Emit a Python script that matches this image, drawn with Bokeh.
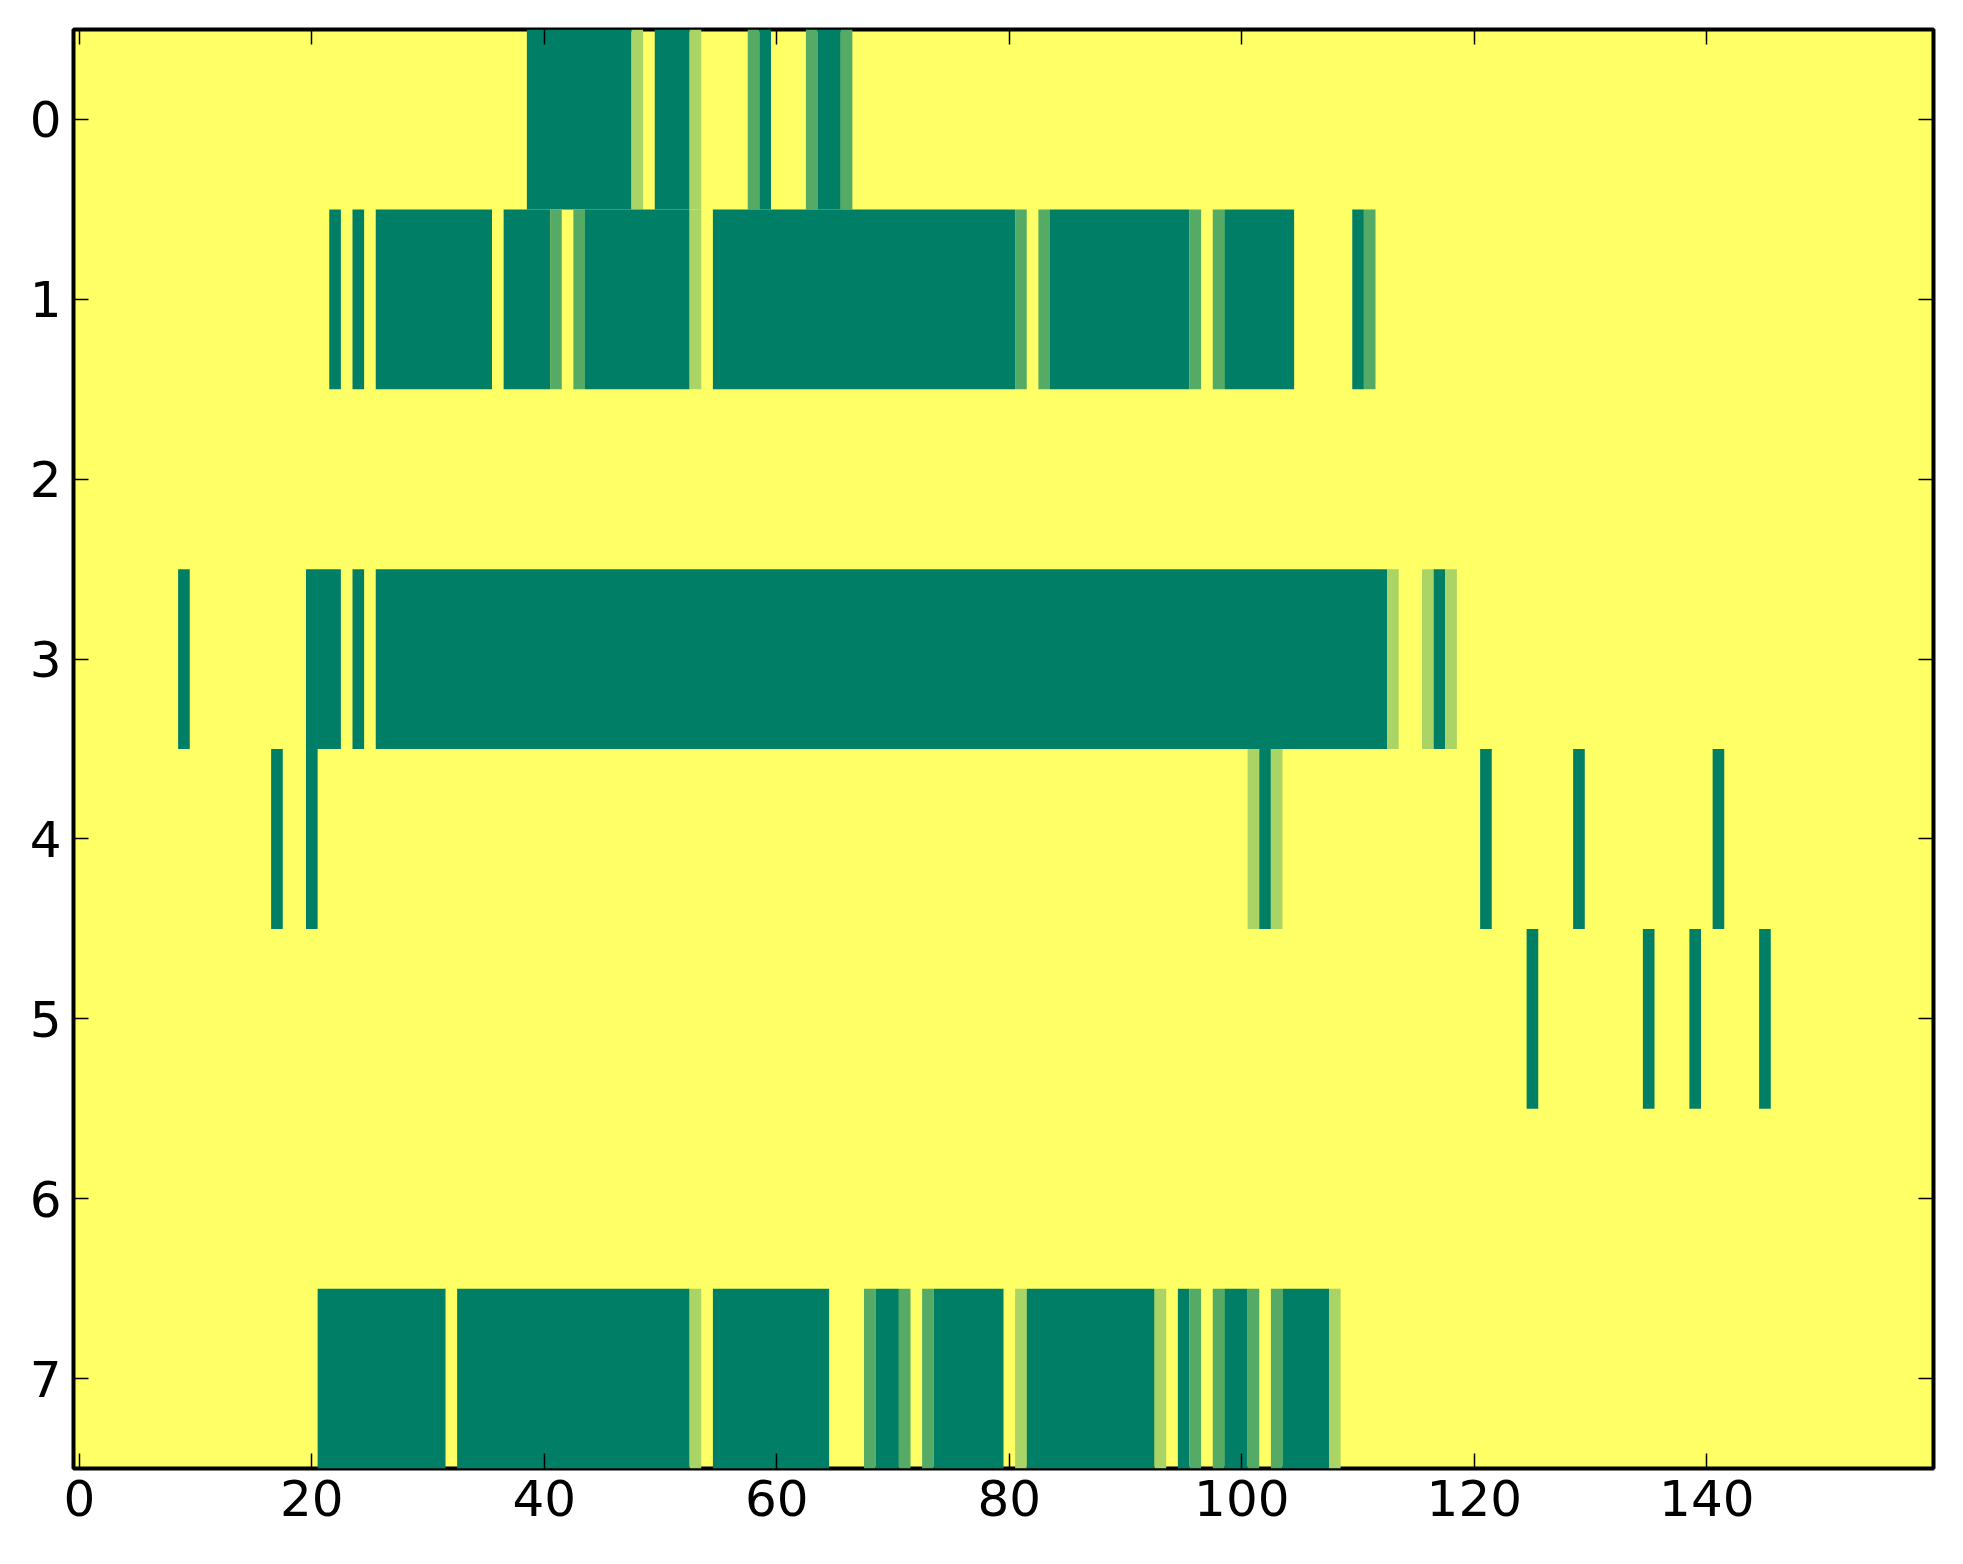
from bokeh.plotting import figure
from bokeh.models import Range1d, LinearAxis, FixedTicker, ColumnDataSource, CustomJSTickFormatter
from bokeh.embed import file_html
from bokeh.resources import INLINE

# ---- data (cell values 0..3, one string per row, 160 columns) ----
n_cols = 160
y_ticks = [0, 1, 2, 3, 4, 5, 6, 7]
x_ticks = [0, 20, 40, 60, 80, 100, 120, 140]
palette = ["#FFFF66", "#AAD466", "#55AA66", "#007F66"]  # summer_r at 0, 1/3, 2/3, 1

row_0 = ("0" * 39 + "3" * 9 + "1" + "0" + "3" * 3 + "1" + "0" * 4 + "2" + "3"
         + "0" * 3 + "2" + "3" * 2 + "2" + "0" * 93)
row_1 = ("0" * 22 + "3" + "0" + "3" + "0" + "3" * 10 + "0" + "3" * 4 + "2" + "0" + "2"
         + "3" * 9 + "1" + "0" + "3" * 26 + "2" + "0" + "2" + "3" * 12 + "2" + "0" + "2"
         + "3" * 6 + "0" * 5 + "3" + "2" + "0" * 48)
row_2 = "0" * 160
row_3 = ("0" * 9 + "3" + "0" * 10 + "3" * 3 + "0" + "3" + "0" + "3" * 87 + "1" + "0" * 2
         + "1" + "3" + "1" + "0" * 41)
row_4 = ("0" * 17 + "3" + "0" * 2 + "3" + "0" * 80 + "1" + "3" + "1" + "0" * 17 + "3"
         + "0" * 7 + "3" + "0" * 11 + "3" + "0" * 18)
row_5 = "0" * 125 + "3" + "0" * 9 + "3" + "0" * 3 + "3" + "0" * 5 + "3" + "0" * 14
row_6 = "0" * 160
row_7 = ("0" * 21 + "3" * 11 + "0" + "3" * 20 + "1" + "0" + "3" * 10 + "0" * 3 + "2"
         + "3" * 2 + "2" + "0" + "2" + "3" * 6 + "0" + "1" + "3" * 11 + "1" + "0" + "3"
         + "2" + "0" + "2" + "3" * 2 + "2" + "0" + "2" + "3" * 4 + "1" + "0" * 51)

rows = [row_0, row_1, row_2, row_3, row_4, row_5, row_6, row_7]
grid = [[int(c) for c in r] for r in rows]
for g in grid:
    assert len(g) == n_cols

# ---- build runs of equal non-zero values ----
left, right, top, bottom, color = [], [], [], [], []
for r, vals in enumerate(grid):
    c = 0
    while c < n_cols:
        v = vals[c]
        e = c
        while e + 1 < n_cols and vals[e + 1] == v:
            e += 1
        if v != 0:
            left.append(c - 0.5)
            right.append(e + 0.5)
            top.append(r - 0.5)
            bottom.append(r + 0.5)
            color.append(palette[v])
        c = e + 1

src = ColumnDataSource(dict(left=left, right=right, top=top, bottom=bottom, color=color))

p = figure(
    x_range=Range1d(-0.5, n_cols - 0.5), y_range=Range1d(len(rows) - 0.5, -0.5),
    frame_width=1860, frame_height=1439,
    min_border_left=73, min_border_top=29, min_border_right=10, min_border_bottom=72,
    output_backend="svg", toolbar_location=None,
    background_fill_color=palette[0], border_fill_color="white",
    outline_line_color="black", outline_line_width=4,
)
p.grid.visible = False

p.quad(left="left", right="right", top="top", bottom="bottom", fill_color="color",
       line_color=None, source=src)

font = "DejaVu Sans"

def style(ax, ticks, labels=True):
    ax.ticker = FixedTicker(ticks=ticks)
    ax.axis_line_color = None
    ax.major_tick_in = 15
    ax.major_tick_out = 0
    ax.major_tick_line_width = 1.5
    ax.major_tick_line_color = "black"
    ax.minor_tick_line_color = None
    if labels:
        ax.major_label_text_font = font
        ax.major_label_text_font_size = "50px"
        ax.major_label_text_color = "black"
    else:
        ax.formatter = CustomJSTickFormatter(code="return ''")
        ax.major_label_text_font_size = "1px"
        ax.major_label_standoff = 0

style(p.xaxis[0], x_ticks)
p.xaxis[0].major_label_standoff = 11
style(p.yaxis[0], y_ticks)
p.yaxis[0].major_label_standoff = 12

top_ax = LinearAxis()
style(top_ax, x_ticks, labels=False)
p.add_layout(top_ax, "above")
right_ax = LinearAxis()
style(right_ax, y_ticks, labels=False)
p.add_layout(right_ax, "right")

open("out.html", "w").write(file_html(p, INLINE))
